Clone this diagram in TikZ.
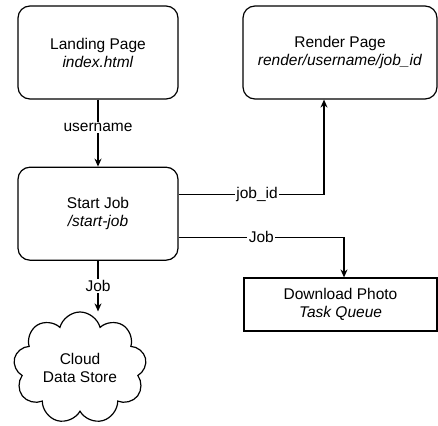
\documentclass[tikz,border=0pt]{standalone}
\usepackage{fontspec}
\setmainfont{Liberation Sans}
\usetikzlibrary{shapes.symbols, arrows.meta, positioning}

\begin{document}
\begin{tikzpicture}[
x=1pt, y=-1pt,
node distance=67pt,
font=\fontsize{15.5}{18}\selectfont,
page/.style={
rectangle,
draw=black,
line width=1.2pt,
rounded corners=12pt,
minimum height=93pt,
align=center
},
queue/.style={
rectangle,
draw=black,
line width=1.2pt,
minimum width=193pt,
minimum height=53pt,
align=center
},
store/.style={
cloud,
cloud puffs=9,
cloud ignores aspect,
draw=black,
line width=1.2pt,
minimum width=133pt,
minimum height=112pt,
align=center
},
arrow/.style={
-{Stealth[length=8pt,width=7pt]},
line width=1.2pt
},
lbl/.style={
fill=white,
draw=none,
inner sep=1.5pt
}
]
\useasboundingbox (0,0) rectangle (438,425);

\node (landing) [page, minimum width=160pt] at (98,52.5)
{Landing Page\\\textit{index.html}};

\node (start) [page, minimum width=160pt, below=of landing]
{Start Job\\\textit{/start-job}};

\node (render) [page, minimum width=194pt] at (340,52.5)
{Render Page\\\textit{render/username/job\_id}};

\node (download) [queue] at (340.5,304.5)
{Download Photo\\\textit{Task Queue}};

\node (store) [store] at (80,368)
{Cloud\\Data Store};

\draw [arrow] (landing) -- coordinate[pos=0.42] (u) (start);
\draw [arrow] ([yshift=19.5pt]start.east) -| coordinate[pos=0.27] (i) ([xshift=-16pt]render.south);
\draw [arrow] ([yshift=-23.5pt]start.east) -| coordinate[pos=0.25] (j) ([xshift=3.5pt]download.north);
\draw [arrow] (start) -- coordinate (k) (start |- store.north);

\node (ulbl) [lbl] at (u) {username};
\node (ilbl) [lbl] at (i) {job\_id};
\node (jlbl) [lbl] at (j) {Job};
\node (klbl) [lbl] at (k) {Job};

\end{tikzpicture}
\end{document}
